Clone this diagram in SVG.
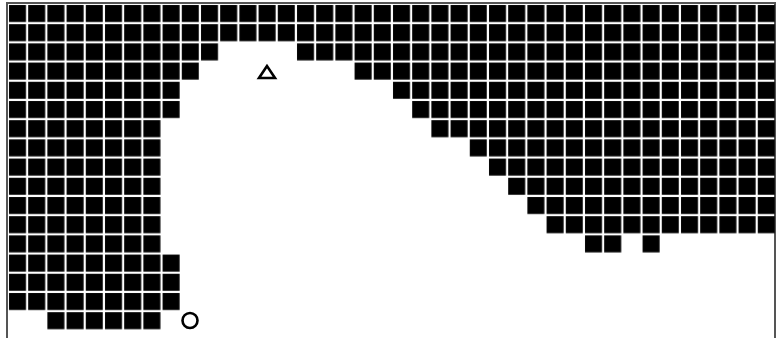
<svg xmlns="http://www.w3.org/2000/svg" width="776" height="338" viewBox="0 0 776 338">
<style>
.frame{stroke:#555;stroke-width:2;fill:none}
.cells{fill:url(#cell)}
.mark{fill:none;stroke:#000;stroke-width:2.6}
</style>
<defs>
<pattern id="cell" patternUnits="userSpaceOnUse" x="8" y="4" width="19.2" height="19.2">
<rect x="1" y="1" width="17" height="17" fill="#000"/>
</pattern>
</defs>
<rect width="776" height="338" fill="#fff"/>
<g id="frame">
<line class="frame" x1="7" y1="2" x2="7" y2="338"/>
<line class="frame" x1="6" y1="3" x2="776" y2="3"/>
<line class="frame" x1="775" y1="2" x2="775" y2="338"/>
</g>
<g id="grid" class="cells">
<rect x="8" y="4" width="768" height="38.4"/>
<rect x="8" y="42.4" width="211.2" height="19.2"/>
<rect x="296" y="42.4" width="480" height="19.2"/>
<rect x="8" y="61.6" width="192" height="19.2"/>
<rect x="353.6" y="61.6" width="422.4" height="19.2"/>
<rect x="8" y="80.8" width="172.8" height="38.4"/>
<rect x="392" y="80.8" width="384" height="19.2"/>
<rect x="411.2" y="100" width="364.8" height="19.2"/>
<rect x="8" y="119.2" width="153.6" height="134.4"/>
<rect x="430.4" y="119.2" width="345.6" height="19.2"/>
<rect x="468.8" y="138.4" width="307.2" height="19.2"/>
<rect x="488" y="157.6" width="288" height="19.2"/>
<rect x="507.2" y="176.8" width="268.8" height="19.2"/>
<rect x="526.4" y="196" width="249.6" height="19.2"/>
<rect x="545.6" y="215.2" width="230.4" height="19.2"/>
<rect x="584" y="234.4" width="38.4" height="19.2"/>
<rect x="641.6" y="234.4" width="19.2" height="19.2"/>
<rect x="8" y="253.6" width="172.8" height="57.6"/>
<rect x="46.4" y="311.2" width="115.2" height="19.2"/>
</g>
<g id="triangle">
<polygon class="mark" points="267,66 259,78 275,78"/>
</g>
<g id="circle">
<circle class="mark" cx="190" cy="320.5" r="7.5"/>
</g>
</svg>
